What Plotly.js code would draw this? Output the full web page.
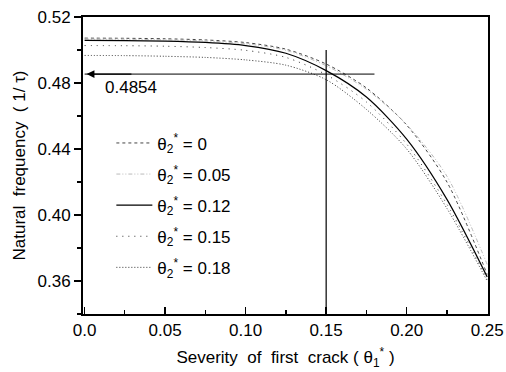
<!DOCTYPE html>
<html>
<head>
<meta charset="utf-8">
<script src="https://cdn.plot.ly/plotly-3.0.1.min.js"></script>
<style>html,body{margin:0;padding:0;background:#fff;}#chart{width:506px;height:372px;}</style>
</head>
<body>
<div id="chart"></div>
<script>
// ---- data ----
const theta1 = [0, 0.025, 0.05, 0.075, 0.1, 0.125, 0.15, 0.175, 0.2, 0.225, 0.25];
const freq_t0    = [0.5072, 0.5071, 0.5068, 0.5061, 0.5045, 0.5005, 0.4915, 0.4770, 0.4545, 0.4200, 0.3640];
const freq_t005  = [0.5066, 0.5065, 0.5062, 0.5055, 0.5038, 0.4998, 0.4905, 0.4762, 0.4548, 0.4235, 0.3700];
const freq_t012  = [0.5058, 0.5057, 0.5054, 0.5046, 0.5027, 0.4980, 0.4875, 0.4715, 0.4460, 0.4095, 0.3625];
const freq_t015  = [0.5027, 0.5026, 0.5023, 0.5015, 0.4998, 0.4955, 0.4850, 0.4685, 0.4430, 0.4065, 0.3610];
const freq_t018  = [0.4967, 0.4966, 0.4962, 0.4955, 0.4940, 0.4908, 0.4820, 0.4640, 0.4400, 0.4040, 0.3600];
const seriesNames = ['θ<sub>2</sub><sup>*</sup> = 0', 'θ<sub>2</sub><sup>*</sup> = 0.05', 'θ<sub>2</sub><sup>*</sup> = 0.12', 'θ<sub>2</sub><sup>*</sup> = 0.15', 'θ<sub>2</sub><sup>*</sup> = 0.18'];
const markerFreq = 0.4854;
const markerFreqLabel = '0.4854';
const arrowStartX = 0.18;
const crackX = 0.15;
const crackLineY = [0.34, 0.50];
const xTickVals = [0, 0.05, 0.10, 0.15, 0.20, 0.25];
const xTickText = ['0.0', '0.05', '0.10', '0.15', '0.20', '0.25'];
const yTickVals = [0.36, 0.40, 0.44, 0.48, 0.52];
const yTickText = ['0.36', '0.40', '0.44', '0.48', '0.52'];

const FONT = 'Liberation Sans, Arial, sans-serif';
const FS = 17;
const styles = [
  {color: '#444', width: 1, dash: '3px,3px'},
  {color: '#bbb', width: 1, dash: '4px,2px,1px,2px,1px,2px'},
  {color: '#000', width: 1.2, dash: 'solid'},
  {color: '#333', width: 1, dash: '1px,5px'},
  {color: '#333', width: 1, dash: '1px,2px'}
];
const ys = [freq_t0, freq_t005, freq_t012, freq_t015, freq_t018];
const traces = ys.map((y, i) => ({
  x: theta1, y: y, type: 'scatter', mode: 'lines', name: seriesNames[i],
  line: Object.assign({shape: 'spline', smoothing: 0.8}, styles[i]),
  legendgroup: 'g' + i
}));
// horizontal marker line
traces.push({x: [0, arrowStartX], y: [markerFreq, markerFreq], type: 'scatter', mode: 'lines',
  line: {color: '#000', width: 1}, showlegend: false, hoverinfo: 'skip'});
// vertical line at theta1 = 0.15
traces.push({x: [crackX, crackX], y: crackLineY, type: 'scatter', mode: 'lines',
  line: {color: '#000', width: 1.2}, showlegend: false, hoverinfo: 'skip'});

const layout = {
  width: 506, height: 372,
  margin: {l: 83, r: 18, t: 17, b: 58},
  paper_bgcolor: '#fff', plot_bgcolor: '#fff',
  font: {family: FONT, size: FS, color: '#000'},
  showlegend: true,
  legend: {x: 0.07, y: 0.635, xanchor: 'left', yanchor: 'top', bgcolor: 'rgba(0,0,0,0)',
    font: {family: FONT, size: FS, color: '#000'}, traceorder: 'grouped', tracegroupgap: 6, itemwidth: 36},
  xaxis: {
    range: [-0.001, 0.2505], showgrid: false, zeroline: false,
    showline: true, linecolor: '#000', linewidth: 2, mirror: true,
    tickmode: 'array', tickvals: xTickVals, ticktext: xTickText,
    ticks: 'inside', ticklen: 7, tickwidth: 1.5, tickcolor: '#000',
    minor: {ticks: 'inside', ticklen: 4, tickwidth: 1.2, dtick: 0.025, tick0: 0, tickcolor: '#000', showgrid: false},
    tickfont: {family: FONT, size: FS},
    title: {text: 'Severity  of  first  crack ( θ<sub>1</sub><sup>*</sup> )', font: {family: FONT, size: FS}, standoff: 12}
  },
  yaxis: {
    range: [0.34, 0.52], showgrid: false, zeroline: false,
    showline: true, linecolor: '#000', linewidth: 2, mirror: true,
    tickmode: 'array', tickvals: yTickVals, ticktext: yTickText,
    ticks: 'outside', ticklen: 7, tickwidth: 1.5, tickcolor: '#000',
    minor: {ticks: 'outside', ticklen: 4, tickwidth: 1.2, dtick: 0.02, tick0: 0.36, tickcolor: '#000', showgrid: false},
    tickfont: {family: FONT, size: FS},
    title: {text: 'Natural  frequency  ( 1/ τ)', font: {family: FONT, size: FS}, standoff: 8}
  },
  annotations: [
    {x: 0, y: markerFreq, ax: 0.03, ay: markerFreq, xref: 'x', yref: 'y', axref: 'x', ayref: 'y',
     text: '', showarrow: true, arrowhead: 2, arrowsize: 1.3, arrowwidth: 1.2, arrowcolor: '#000', standoff: 2},
    {x: 0.0285, y: 0.4772, xref: 'x', yref: 'y', text: markerFreqLabel, showarrow: false,
     font: {family: FONT, size: FS, color: '#000'}}
  ]
};
Plotly.newPlot('chart', traces, layout, {displayModeBar: false, staticPlot: true});
</script>
</body>
</html>
